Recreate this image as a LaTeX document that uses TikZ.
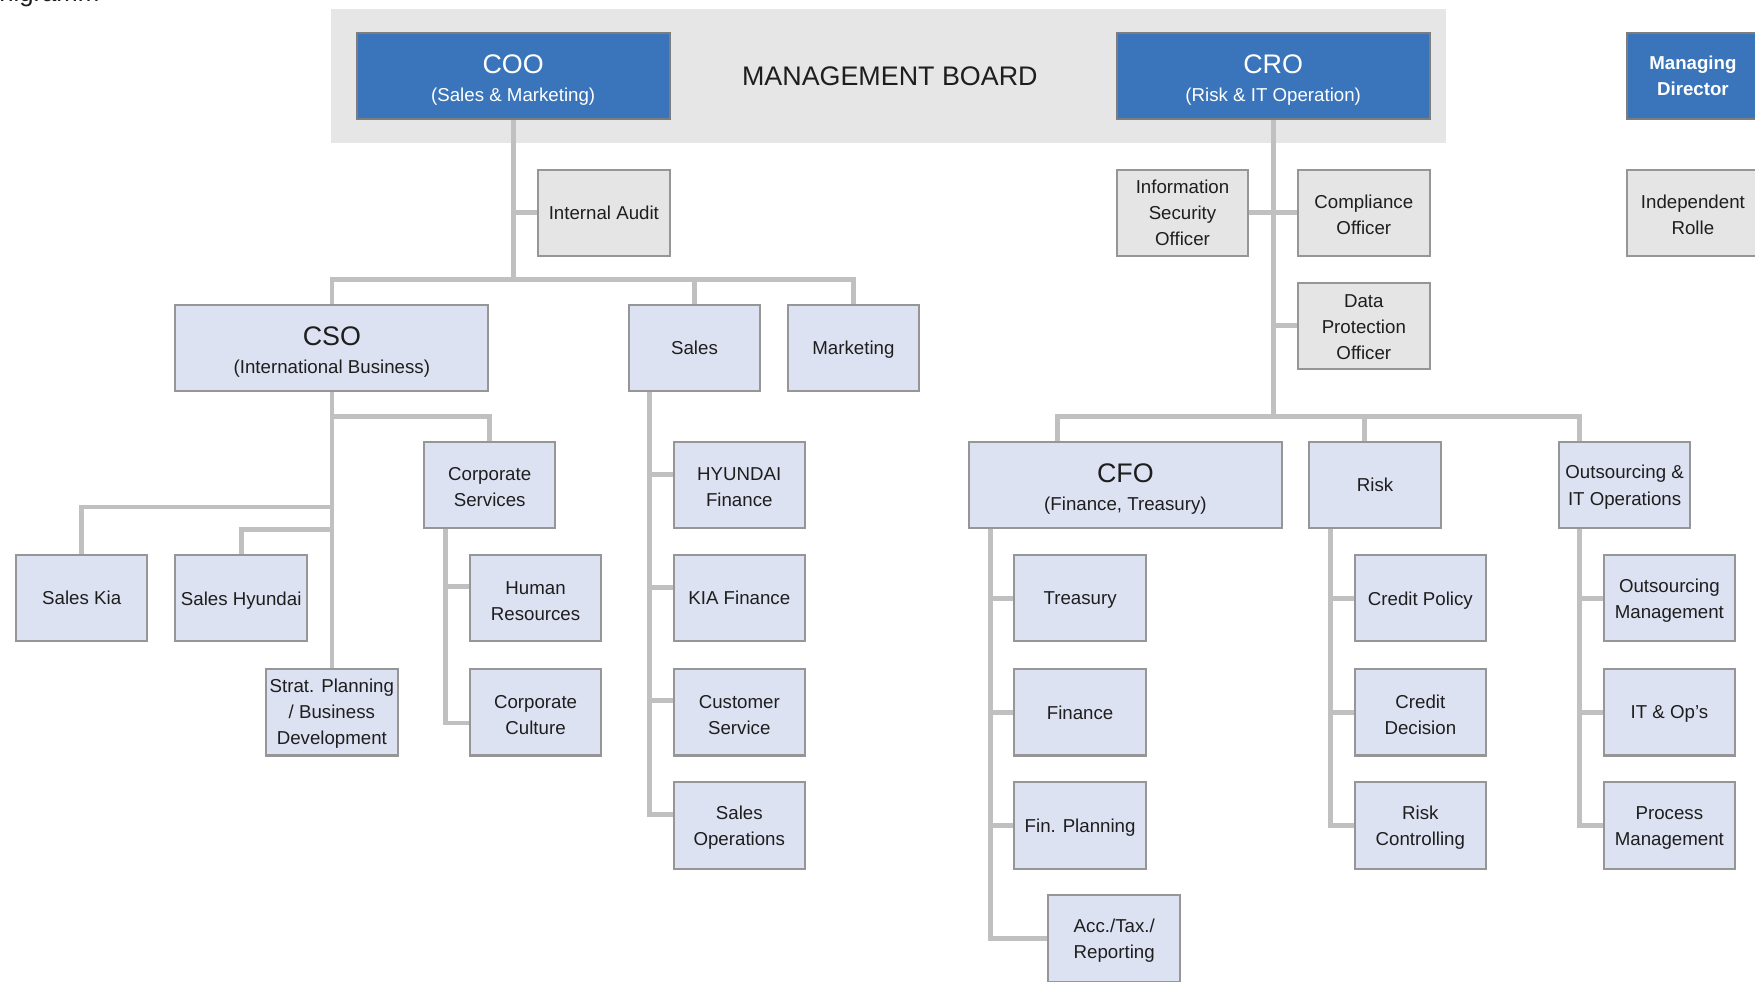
\documentclass[tikz,border=0pt]{standalone}
\usepackage{fontspec}
\setmainfont{Liberation Sans}
\definecolor{bluefill}{RGB}{58,116,186}
\definecolor{blueline}{RGB}{125,125,125}
\definecolor{boxline}{RGB}{150,150,150}
\definecolor{lblue}{RGB}{221,226,243}
\definecolor{gfill}{RGB}{229,229,229}
\definecolor{boardgrey}{RGB}{230,230,230}
\definecolor{cgrey}{RGB}{192,192,192}
\definecolor{txt}{RGB}{30,30,30}
\newcommand\fsbody{\fontsize{16.7pt}{23.5pt}\selectfont}
\newcommand\fstitle{\fontsize{24pt}{27pt}\selectfont}
\newcommand\ttl[2]{\rule{0pt}{24pt}{\fstitle #1}\\[1.5pt]#2}
\newcommand\sr{\rule{0pt}{16.5pt}}
\newcommand\srt{\rule{0pt}{14pt}}
\begin{document}
\begin{tikzpicture}[x=1pt,y=-1pt,
  orgbox/.style={draw=boxline,line width=1.8pt,minimum width=117.5pt,minimum height=77pt,inner sep=0pt,align=center,text=txt,font=\fsbody},
  lbox/.style={orgbox,fill=lblue},
  gbox/.style={orgbox,fill=gfill},
  bbox/.style={orgbox,fill=bluefill,draw=blueline,text=white},
  wide/.style={minimum width=279.5pt},
  sl/.style={text depth=0pt},
  conn/.style={draw=cgrey,line width=4.2pt}]
\useasboundingbox (0,0) rectangle (1568,877);

% management board background
\node[fill=boardgrey,minimum width=996pt,minimum height=120pt,inner sep=0pt] (board) at (794,68) {};
\node[anchor=base east,font=\fontsize{23pt}{27pt}\selectfont,text=txt,inner sep=0pt] (doctitle) at (89,1.5) {Organigramm};

% top row
\node[bbox,wide] (coo) at (458.5,68) {\ttl{COO}{(Sales \& Marketing)}};
\node[font=\fstitle,text=txt] (mb) at (795,68) {MANAGEMENT BOARD};
\node[bbox,wide] (cro) at (1137.5,68) {\ttl{CRO}{(Risk \& IT Operation)}};
\node[bbox,font=\fsbody\bfseries] (md) at (1512.5,68) {Managing\\Director};

% staff row
\node[gbox] (ia) at (539.5,190) {Internal Audit};
\node[gbox] (iso) at (1056.5,190) {Information\\Security\\Officer};
\node[gbox] (comp) at (1218.5,190) {\sr Compliance\\Officer};
\node[gbox] (dpo) at (1218.5,291) {\srt Data\\Protection\\Officer};
\node[gbox] (ir) at (1512.5,190) {\sr Independent\\Rolle};

% COO side
\node[lbox,wide] (cso) at (296.5,311) {\ttl{CSO}{(International Business)}};
\node[lbox] (sales) at (620.5,311) {Sales};
\node[lbox,sl] (mkt) at (762.5,311) {Marketing};
\node[lbox] (cs) at (437.5,433) {\sr Corporate\\Services};
\node[lbox] (skia) at (73,534.5) {Sales Kia};
\node[lbox,sl] (shy) at (215.5,534.5) {Sales Hyundai};
\node[lbox] (strat) at (296.5,636.5) {\srt Strat. Planning\\/ Business\\Development};
\node[lbox] (hr) at (478.5,534.5) {\sr Human\\Resources};
\node[lbox] (cc) at (478.5,636.5) {\sr Corporate\\Culture};
\node[lbox] (hf) at (660.5,433) {\sr HYUNDAI\\Finance};
\node[lbox] (kf) at (660.5,534.5) {KIA Finance};
\node[lbox] (cust) at (660.5,636.5) {\sr Customer\\Service};
\node[lbox] (sops) at (660.5,737.5) {\sr Sales\\Operations};

% CRO side
\node[lbox,wide] (cfo) at (1005.5,433) {\ttl{CFO}{(Finance, Treasury)}};
\node[lbox] (risk) at (1228.5,433) {Risk};
\node[lbox] (out) at (1451.5,433) {\sr Outsourcing \&\\IT Operations};
\node[lbox,sl] (tre) at (965,534.5) {Treasury};
\node[lbox] (fin) at (965,636.5) {Finance};
\node[lbox,sl] (finp) at (965,737.5) {Fin. Planning};
\node[lbox] (acc) at (995.5,838.5) {\sr Acc./Tax./\\Reporting};
\node[lbox,sl] (cp) at (1269,534.5) {Credit Policy};
\node[lbox] (cd) at (1269,636.5) {\sr Credit\\Decision};
\node[lbox] (rc) at (1269,737.5) {\sr Risk\\Controlling};
\node[lbox] (om) at (1491.5,534.5) {\sr Outsourcing\\Management};
\node[lbox,sl] (itops) at (1491.5,636.5) {IT \& Op’s};
\node[lbox] (pm) at (1491.5,737.5) {\sr Process\\Management};

% ---- connectors ----
\coordinate (cooBus) at (coo.south |- 0,250);
\draw[conn] (coo.south) -- (cooBus);
\draw[conn] (coo.south |- ia.west) -- (ia.west);
\draw[conn] (cso.north) |- (mkt.north |- cooBus) -- (mkt.north);
\draw[conn] (sales.north) -- (sales.north |- cooBus);

\draw[conn] (cso.south) -- (strat.north);
\draw[conn] (cs.north) |- (cso.south |- 0,372);
\draw[conn] (skia.north) |- (cso.south |- 0,453);
\draw[conn] (shy.north) |- (cso.south |- 0,473);

\coordinate (csT) at ([xshift=-39.5pt]cs.south);
\coordinate (hrB) at ([yshift=10.5pt]hr.west);
\coordinate (ccB) at ([yshift=-9.5pt]cc.west);
\draw[conn] (csT) |- (ccB);
\draw[conn] (csT |- hrB) -- (hrB);

\coordinate (salT) at ([xshift=-40.5pt]sales.south);
\coordinate (hfB) at ([yshift=9pt]hf.west);
\coordinate (kfB) at ([yshift=9.5pt]kf.west);
\coordinate (custB) at ([yshift=10.5pt]cust.west);
\coordinate (sopsB) at ([yshift=10pt]sops.west);
\draw[conn] (salT) |- (sopsB);
\draw[conn] (salT |- hfB) -- (hfB);
\draw[conn] (salT |- kfB) -- (kfB);
\draw[conn] (salT |- custB) -- (custB);

\coordinate (croBus) at (cro.south |- 0,372);
\draw[conn] (cro.south) -- (croBus);
\draw[conn] (iso.east) -- (comp.west);
\draw[conn] (cro.south |- dpo.west) -- (dpo.west);
\coordinate (cfoD) at ([xshift=-60.5pt]cfo.north);
\coordinate (riskD) at ([xshift=-9.5pt]risk.north);
\coordinate (outD) at ([xshift=-40.5pt]out.north);
\draw[conn] (cfoD) |- (outD |- croBus) -- (outD);
\draw[conn] (riskD) -- (riskD |- croBus);

\coordinate (cfoT) at ([xshift=-120.5pt]cfo.south);
\draw[conn] (cfoT) |- (acc.west);
\draw[conn] (cfoT |- tre.west) -- (tre.west);
\draw[conn] (cfoT |- fin.west) -- (fin.west);
\draw[conn] (cfoT |- finp.west) -- (finp.west);

\coordinate (riskT) at ([xshift=-39.5pt]risk.south);
\draw[conn] (riskT) |- (rc.west);
\draw[conn] (riskT |- cp.west) -- (cp.west);
\draw[conn] (riskT |- cd.west) -- (cd.west);

\coordinate (outT) at ([xshift=-40.5pt]out.south);
\draw[conn] (outT) |- (pm.west);
\draw[conn] (outT |- om.west) -- (om.west);
\draw[conn] (outT |- itops.west) -- (itops.west);
\end{tikzpicture}
\end{document}
